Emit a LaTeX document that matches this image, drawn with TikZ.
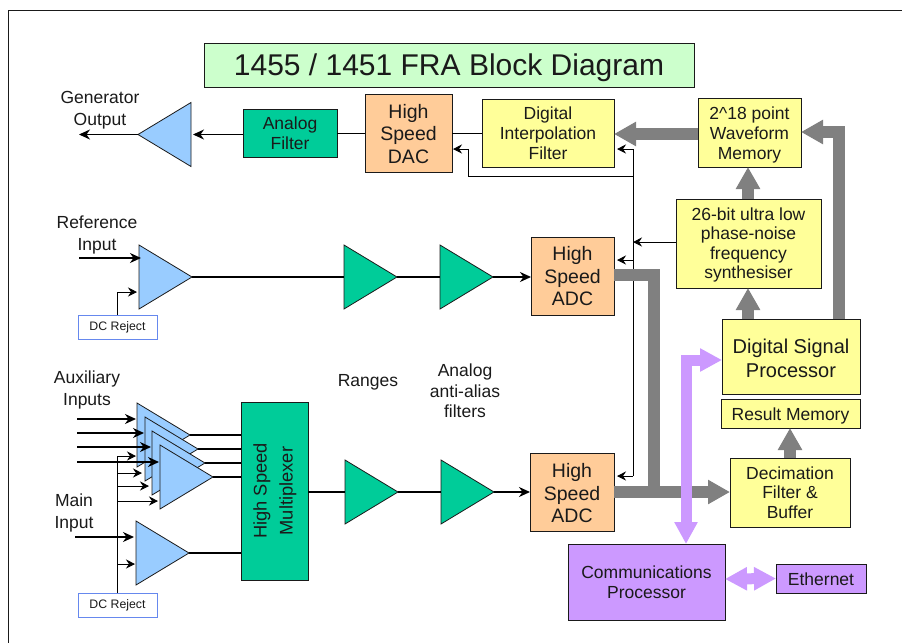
\documentclass[tikz,border=0pt]{standalone}
\usepackage{fontspec}
\setmainfont{Liberation Sans}
\usetikzlibrary{arrows.meta,shapes.geometric,calc}
\definecolor{yel}{HTML}{FFFF99}
\definecolor{grn}{HTML}{00CC99}
\definecolor{org}{HTML}{FFCC99}
\definecolor{pur}{HTML}{CC99FF}
\definecolor{blu}{HTML}{99CCFF}
\definecolor{ttl}{HTML}{CCFFCC}
\definecolor{bus}{HTML}{808080}
\definecolor{ink}{HTML}{1A1A1A}
\definecolor{dcb}{HTML}{6688EE}
\newcommand{\tup}[1]{\rule{0pt}{#1pt}}
\tikzset{
  box/.style={draw=ink,line width=0.9pt,inner sep=0pt,outer sep=0pt,align=center,text=ink,font=\fontsize{17.5}{20}\selectfont},
  yelbox/.style={box,fill=yel},
  grnbox/.style={box,fill=grn},
  adcbox/.style={box,fill=org,font=\fontsize{19.5}{22.5}\selectfont},
  purbox/.style={box,fill=pur},
  dcbox/.style={draw=dcb,line width=1pt,fill=white,inner sep=0pt,outer sep=0pt,text=ink,minimum width=79pt,minimum height=24pt,font=\fontsize{12.3}{14}\selectfont},
  lbl/.style={align=center,text=ink,inner sep=0pt,font=\fontsize{17.5}{22}\selectfont},
  amp/.style={isosceles triangle,isosceles triangle stretches,isosceles triangle apex angle=60,draw=ink,line width=0.8pt,inner sep=0pt,outer sep=0pt,minimum width=64pt,minimum height=53pt,anchor=lower side},
  bluamp/.style={amp,fill=blu},
  grnamp/.style={amp,fill=grn},
  sig/.style={draw=black,line width=1.4pt},
  sigarrow/.style={sig,-{Stealth[length=11pt,width=10pt,inset=3.5pt]}},
  ctl/.style={draw=black,line width=0.9pt},
  ctlarrow/.style={ctl,-{Stealth[length=9pt,width=9pt,inset=3pt]}},
  gbus/.style={draw=bus,line width=11.5pt,-{Triangle[length=22pt,width=23pt]}},
  gplain/.style={draw=bus,line width=11.5pt},
  pbus/.style={draw=pur,line width=11pt,{Triangle[length=22pt,width=22pt]}-{Triangle[length=22pt,width=22pt]}},
}
\begin{document}
\begin{tikzpicture}[x=1pt,y=-1pt]
\useasboundingbox (0,0) rectangle (902,643);
\fill[white] (0,0) rectangle (902,643);
\coordinate (frameA) at (902,10);
\coordinate (frameB) at (8,10);
\coordinate (frameC) at (8,643);
\draw[draw=ink,line width=1pt] (frameA) -- (frameB) -- (frameC);

% title
\node[box,fill=ttl,minimum width=490pt,minimum height=44pt,font=\fontsize{30}{34}\selectfont] (title) at (449,65) {\tup{28}1455 / 1451 FRA Block Diagram};

% labels
\node[lbl] (lgen) at (100,110) {Generator\\Output};
\node[lbl] (lref) at (97,234.5) {Reference\\Input};
\node[lbl] (laux) at (87,390) {Auxiliary\\Inputs};
\node[lbl] (lmain) at (74,513) {Main\\Input};
\node[lbl] (lrng) at (368,382) {Ranges};
\node[lbl,font=\fontsize{17.5}{20.5}\selectfont] (laaf) at (465,391) {Analog\\anti-alias\\filters};

% upper row
\node[bluamp,shape border rotate=180] (genamp) at (191,134.5) {};
\node[grnbox,minimum width=94pt,minimum height=48pt] (afilt) at (290,133) {Analog\\Filter};
\node[adcbox,minimum width=87pt,minimum height=78pt] (dac) at (408.5,133.5) {\tup{15}High\\Speed\\DAC};
\node[yelbox,minimum width=132pt,minimum height=68pt] (interp) at (548,133) {\tup{13.8}Digital\\Interpolation\\Filter};
\node[yelbox,minimum width=103pt,minimum height=69pt] (wave) at (749.5,132.5) {\tup{16.8}2\^{}18 point\\Waveform\\Memory};
\node[yelbox,minimum width=145pt,minimum height=89pt,font=\fontsize{17.5}{19.6}\selectfont] (synth) at (748.5,243.5) {\tup{15.8}26-bit ultra low\\phase-noise\\frequency\\synthesiser};
\node[yelbox,minimum width=138pt,minimum height=75pt,font=\fontsize{20}{23.5}\selectfont] (dsp) at (791,356.5) {\tup{18}Digital Signal\\Processor};
\node[yelbox,minimum width=139pt,minimum height=29pt] (rmem) at (790.5,413.5) {\tup{16.8}Result Memory};
\node[yelbox,minimum width=120pt,minimum height=69pt,font=\fontsize{17.5}{19.6}\selectfont] (decim) at (790,492.5) {\tup{13}Decimation\\Filter \&\\Buffer};
\node[purbox,minimum width=157pt,minimum height=76pt,font=\fontsize{17.5}{19.5}\selectfont] (comm) at (646.5,582) {Communications\\Processor};
\node[purbox,minimum width=90pt,minimum height=29pt] (eth) at (821,578.5) {\tup{14.8}Ethernet};

% reference row
\node[bluamp] (refamp) at (139,277) {};
\node[dcbox] (dcref) at (117.5,327) {DC Reject};
\node[grnamp] (g1) at (344,277) {};
\node[grnamp] (g2) at (440,277) {};
\node[adcbox,minimum width=83pt,minimum height=78pt] (adc1) at (572.5,276) {\tup{15}High\\Speed\\ADC};

% lower row
\node[bluamp] (aux1) at (137,435) {};
\node[bluamp] (aux2) at (145,449) {};
\node[bluamp] (aux3) at (152,463) {};
\node[bluamp] (aux4) at (160,477) {};
\node[bluamp] (mainamp) at (136,553) {};
\node[dcbox] (dcmain) at (117.5,605) {DC Reject};
\node[grnbox,minimum width=67pt,minimum height=178pt,font=\fontsize{18.3}{25}\selectfont] (mux) at (274.5,491) {\rotatebox{90}{\begin{tabular}{@{}c@{}}High Speed\\[1pt]Multiplexer\end{tabular}}};
\node[grnamp] (g3) at (345,492) {};
\node[grnamp] (g4) at (441,492) {};
\node[adcbox,minimum width=84pt,minimum height=78pt] (adc2) at (572,492) {\tup{17}High\\Speed\\ADC};

% signal connectors, upper row
\draw[sigarrow] (genamp.apex) -- ++(-59,0) coordinate (genout);
\draw[sigarrow,shorten >=2pt] (afilt.west |- genamp.lower side) -- (genamp.lower side);
\draw[ctl] (dac.west |- afilt.east) -- (afilt.east);
\draw[ctl] (interp.west) -- (dac.east |- interp.west);

% reference row connectors
\coordinate (refin) at (79,258);
\draw[sigarrow] (refin) -- (141,258);
\draw[sig] (refamp.apex) -- (g1.lower side);
\draw[sig] (g1.apex) -- (g2.lower side);
\draw[sigarrow] (g2.apex) -- (adc1.west |- g2.apex);
\draw[ctlarrow] (dcref.north) |- (137,292);

% lower row connectors
\draw[sig] (aux1.apex) -- (mux.west |- aux1.apex);
\draw[sig] (aux2.apex) -- (mux.west |- aux2.apex);
\draw[sig] (aux3.apex) -- (mux.west |- aux3.apex);
\draw[sig] (aux4.apex) -- (mux.west |- aux4.apex);
\draw[sig] (mainamp.apex) -- (mux.west |- mainamp.apex);
\draw[sig] (mux.east |- g3.lower side) -- (g3.lower side);
\draw[sig] (g3.apex) -- (g4.lower side);
\draw[sigarrow] (g4.apex) -- (adc2.west |- g4.apex);
\coordinate (auxin1) at (77,419);
\coordinate (auxin2) at (77,433);
\coordinate (auxin3) at (77,447);
\coordinate (auxin4) at (77,462);
\coordinate (mainin) at (75,537);
\draw[sigarrow] (auxin1) -- (136,419);
\draw[sigarrow] (auxin2) -- (144,433);
\draw[sigarrow] (auxin3) -- (151,447);
\draw[sigarrow] (auxin4) -- (159,462);
\draw[sigarrow] (mainin) -- (134,537);
\draw[ctlarrow] (dcmain.north) |- (136,456);
\draw[ctlarrow] (dcmain.north |- 0,473) -- (142,473);
\draw[ctlarrow] (dcmain.north |- 0,486) -- (149,486);
\draw[ctlarrow] (dcmain.north |- 0,501) -- (158,501);
\draw[ctlarrow] (dcmain.north |- 0,564) -- (135,564);

% thin control bus
\coordinate (busTop) at (633,149);
\coordinate (busBot) at (633,476);
\draw[ctl] (busTop) -- (busBot);
\draw[ctlarrow,shorten >=3pt] (busTop) -- (interp.east |- busTop);
\draw[ctlarrow,shorten >=3pt] (633,260) -- (adc1.east |- 0,260);
\draw[ctlarrow,shorten >=3pt] (busBot) -- (adc2.east |- busBot);
\draw[ctlarrow] (synth.west |- 0,242) -- (633,242);
\coordinate (dacA) at (633,176);
\coordinate (dacB) at (468,176);
\coordinate (dacC) at (468,149);
\draw[ctlarrow,shorten >=1pt] (dacA) -- (dacB) -- (dacC) -- (dac.east |- dacC);

% grey data buses
\draw[gbus] (wave.west |- 0,134) -- (interp.east |- 0,134);
\draw[gbus] (dsp.north -| 839,0) -- (839,132) -- (wave.east |- 0,132);
\draw[gbus] (synth.north -| 748,0) -- (748,167);
\draw[gbus] (dsp.north -| 748,0) -- (748,288);
\draw[gbus] (decim.north -| 790,0) -- (790,428);
\draw[gplain] (adc1.east |- 0,275) -- (654,275) -- (654,498);
\draw[gbus] (adc2.east |- 0,492) -- (decim.west |- 0,492);

% purple buses
\draw[pbus] (comm.north -| 686,0) -- (686,360) -- (dsp.west |- 0,360);
\draw[pbus] (comm.east |- 0,579) -- (eth.west);
\end{tikzpicture}
\end{document}
